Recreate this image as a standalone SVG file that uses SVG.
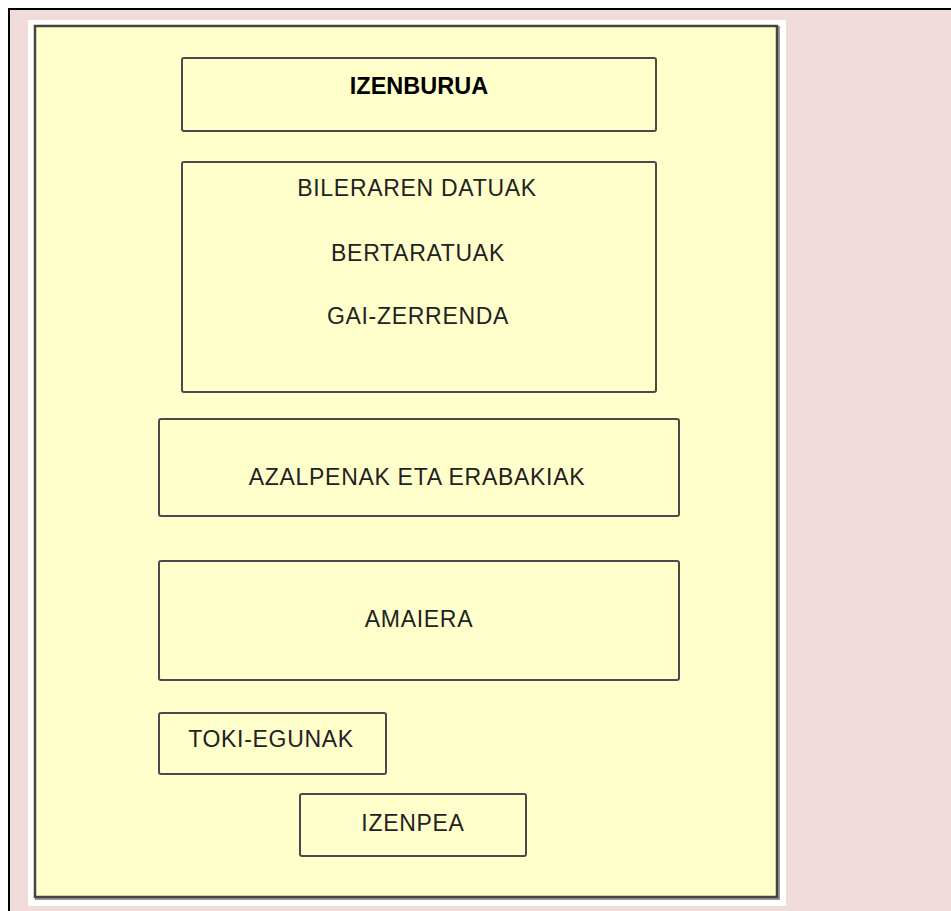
<svg xmlns="http://www.w3.org/2000/svg" width="951" height="911" viewBox="0 0 951 911">
<style>
.box{fill:#ffffcc;stroke:#4a4a4a;stroke-width:2}
.t{font-family:"Liberation Sans",Arial,sans-serif;font-size:23px;fill:#222;text-anchor:middle;letter-spacing:0.7px}
.b{font-weight:bold;font-size:23.5px;fill:#000;letter-spacing:0}
</style>
<rect x="0" y="0" width="951" height="911" fill="#ffffff"/>
<rect x="9" y="9" width="950" height="910" fill="#f2dcdb" stroke="#000" stroke-width="2"/>
<rect x="28" y="20" width="758" height="886" fill="#ffffff"/>
<rect x="36" y="27" width="743" height="872" fill="none" stroke="#999" stroke-width="2"/>
<rect x="35" y="26" width="742" height="871" fill="#ffffcc" stroke="#444" stroke-width="2.5"/>
<g id="izenburua">
<rect class="box" x="182" y="58" width="474" height="73" rx="2"/>
<text class="t b" x="419" y="94">IZENBURUA</text>
</g>
<g id="datuak">
<rect class="box" x="182" y="162" width="474" height="230" rx="2"/>
<text class="t" x="417" y="196">BILERAREN DATUAK</text>
<text class="t" x="418" y="261">BERTARATUAK</text>
<text class="t" x="418" y="324">GAI-ZERRENDA</text>
</g>
<g id="azalpenak">
<rect class="box" x="159" y="419" width="520" height="97" rx="2"/>
<text class="t" x="417" y="485">AZALPENAK ETA ERABAKIAK</text>
</g>
<g id="amaiera">
<rect class="box" x="159" y="561" width="520" height="119" rx="2"/>
<text class="t" x="419" y="627">AMAIERA</text>
</g>
<g id="tokiegunak">
<rect class="box" x="159" y="713" width="227" height="61" rx="2"/>
<text class="t" x="271" y="747">TOKI-EGUNAK</text>
</g>
<g id="izenpea">
<rect class="box" x="300" y="794" width="226" height="62" rx="2"/>
<text class="t" x="413" y="831">IZENPEA</text>
</g>
<g id="connectors"/>
</svg>
